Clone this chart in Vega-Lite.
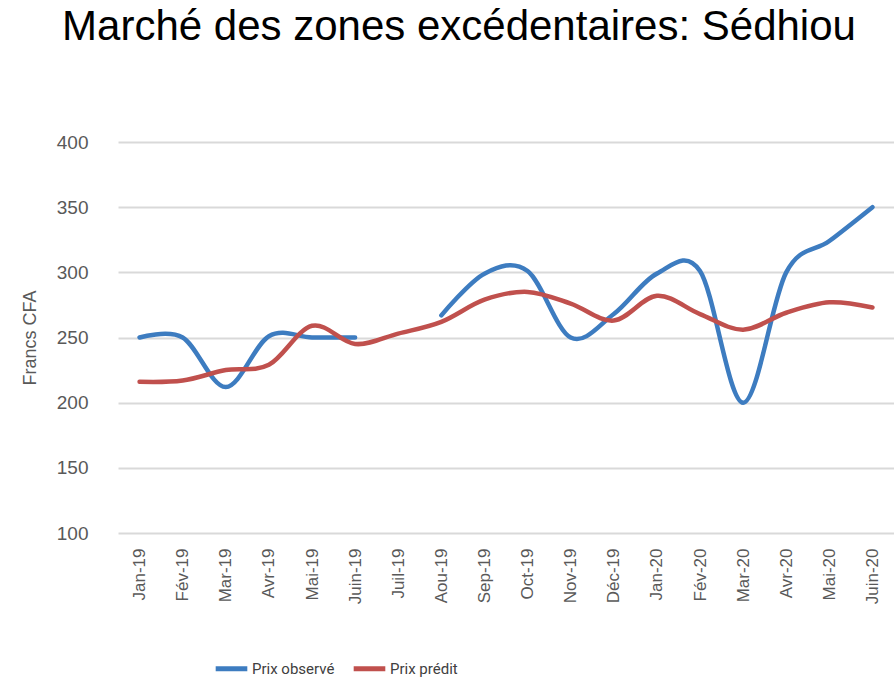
{
  "$schema": "https://vega.github.io/schema/vega-lite/v6.json",
  "autosize": {"type": "none"},
  "width": 776,
  "height": 391,
  "padding": {"left": 118, "top": 142, "right": 0, "bottom": 152},
  "background": "white",
  "title": {
    "text": "Marché des zones excédentaires: Sédhiou",
    "font": "Liberation Sans",
    "fontSize": 42,
    "fontWeight": "normal",
    "color": "black",
    "anchor": "middle",
    "baseline": "alphabetic",
    "offset": 51,
    "dx": -47
  },
  "data": {
    "values": [
      {"mois": "Jan-19", "serie": "Prix observé", "prix": 250},
      {"mois": "Fév-19", "serie": "Prix observé", "prix": 250},
      {"mois": "Mar-19", "serie": "Prix observé", "prix": 212},
      {"mois": "Avr-19", "serie": "Prix observé", "prix": 251},
      {"mois": "Mai-19", "serie": "Prix observé", "prix": 250},
      {"mois": "Juin-19", "serie": "Prix observé", "prix": 250},
      {"mois": "Juil-19", "serie": "Prix observé", "prix": null},
      {"mois": "Aou-19", "serie": "Prix observé", "prix": 267},
      {"mois": "Sep-19", "serie": "Prix observé", "prix": 299},
      {"mois": "Oct-19", "serie": "Prix observé", "prix": 301},
      {"mois": "Nov-19", "serie": "Prix observé", "prix": 250},
      {"mois": "Déc-19", "serie": "Prix observé", "prix": 268},
      {"mois": "Jan-20", "serie": "Prix observé", "prix": 299},
      {"mois": "Fév-20", "serie": "Prix observé", "prix": 301},
      {"mois": "Mar-20", "serie": "Prix observé", "prix": 200},
      {"mois": "Avr-20", "serie": "Prix observé", "prix": 300},
      {"mois": "Mai-20", "serie": "Prix observé", "prix": 324},
      {"mois": "Juin-20", "serie": "Prix observé", "prix": 350},
      {"mois": "Jan-19", "serie": "Prix prédit", "prix": 216},
      {"mois": "Fév-19", "serie": "Prix prédit", "prix": 217},
      {"mois": "Mar-19", "serie": "Prix prédit", "prix": 225},
      {"mois": "Avr-19", "serie": "Prix prédit", "prix": 229},
      {"mois": "Mai-19", "serie": "Prix prédit", "prix": 259},
      {"mois": "Juin-19", "serie": "Prix prédit", "prix": 245},
      {"mois": "Juil-19", "serie": "Prix prédit", "prix": 253},
      {"mois": "Aou-19", "serie": "Prix prédit", "prix": 262},
      {"mois": "Sep-19", "serie": "Prix prédit", "prix": 279},
      {"mois": "Oct-19", "serie": "Prix prédit", "prix": 285},
      {"mois": "Nov-19", "serie": "Prix prédit", "prix": 276},
      {"mois": "Déc-19", "serie": "Prix prédit", "prix": 263},
      {"mois": "Jan-20", "serie": "Prix prédit", "prix": 282},
      {"mois": "Fév-20", "serie": "Prix prédit", "prix": 268},
      {"mois": "Mar-20", "serie": "Prix prédit", "prix": 256},
      {"mois": "Avr-20", "serie": "Prix prédit", "prix": 269},
      {"mois": "Mai-20", "serie": "Prix prédit", "prix": 277},
      {"mois": "Juin-20", "serie": "Prix prédit", "prix": 273}
    ]
  },
  "mark": {
    "type": "line",
    "interpolate": "cardinal",
    "tension": 0,
    "strokeWidth": 4.5,
    "strokeCap": "round",
    "invalid": "break-paths-show-domains"
  },
  "encoding": {
    "x": {
      "field": "mois",
      "type": "ordinal",
      "sort": ["Jan-19","Fév-19","Mar-19","Avr-19","Mai-19","Juin-19","Juil-19","Aou-19","Sep-19","Oct-19","Nov-19","Déc-19","Jan-20","Fév-20","Mar-20","Avr-20","Mai-20","Juin-20"],
      "scale": {"type": "point", "padding": 0.5},
      "axis": {
        "title": null,
        "labelAngle": -90,
        "labelFont": "Liberation Sans",
        "labelFontSize": 17,
        "labelColor": "#595959",
        "labelPadding": 15,
        "ticks": false,
        "domain": false,
        "grid": false
      }
    },
    "y": {
      "field": "prix",
      "type": "quantitative",
      "scale": {"domain": [100, 400], "nice": false, "zero": false},
      "axis": {
        "title": "Francs CFA",
        "titleFont": "Liberation Sans",
        "titleFontSize": 18,
        "titleFontWeight": "normal",
        "titleColor": "#595959",
        "titlePadding": 17,
        "values": [100, 150, 200, 250, 300, 350, 400],
        "labelFont": "Liberation Sans",
        "labelFontSize": 19,
        "labelColor": "#595959",
        "labelPadding": 30,
        "ticks": false,
        "domain": false,
        "grid": true,
        "gridColor": "#d9d9d9",
        "gridWidth": 2
      }
    },
    "color": {
      "field": "serie",
      "type": "nominal",
      "scale": {"domain": ["Prix observé", "Prix prédit"], "range": ["#3d7cc0", "#c0504d"]},
      "legend": {
        "title": null,
        "orient": "none",
        "direction": "horizontal",
        "legendX": 95,
        "legendY": 508,
        "symbolType": "stroke",
        "symbolSize": 1000,
        "symbolStrokeWidth": 5,
        "labelFont": "Roboto",
        "labelFontSize": 15,
        "labelColor": "#404040",
        "labelOffset": 2,
        "columnPadding": 8
      }
    }
  },
  "config": {"view": {"stroke": null}}
}
